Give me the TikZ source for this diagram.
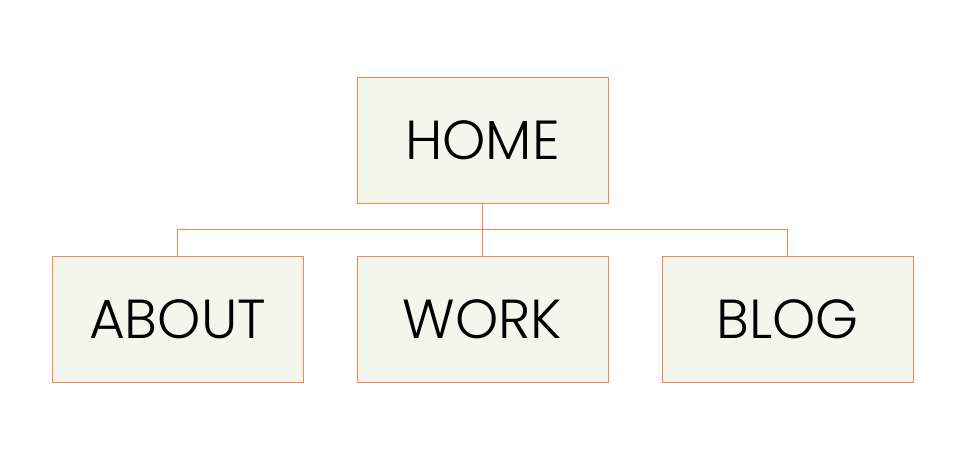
\documentclass[tikz,border=0pt]{standalone}
\usepackage{fontspec}
\setmainfont{Poppins}[UprightFont={* Light}]
\usetikzlibrary{positioning,calc}
\definecolor{lineorange}{HTML}{FF8352}
\definecolor{boxfill}{HTML}{F5F6EB}
\begin{document}
\begin{tikzpicture}[
   x=1pt,y=-1pt,
   font=\fontsize{55}{60}\selectfont,
   page/.style={draw=lineorange,fill=boxfill,line width=1pt,minimum width=251pt,minimum height=126pt,inner sep=0pt,outer sep=0pt},
   link/.style={draw=lineorange,line width=1pt},
   node distance=53pt and 54pt]
\useasboundingbox (0,0) rectangle (960,459);
\node[page] (home) at (482.5,140) {HOME};
\node[page,below=of home] (work) {WORK};
\node[page,left=of work] (about) {ABOUT};
\node[page,right=of work] (blog) {BLOG};
\coordinate (split) at ($(home.south)!0.5!(work.north)$);
\draw[link] (home.south) -- (work.north);
\draw[link] (about.north) |- (split) -| (blog.north);
\end{tikzpicture}
\end{document}
